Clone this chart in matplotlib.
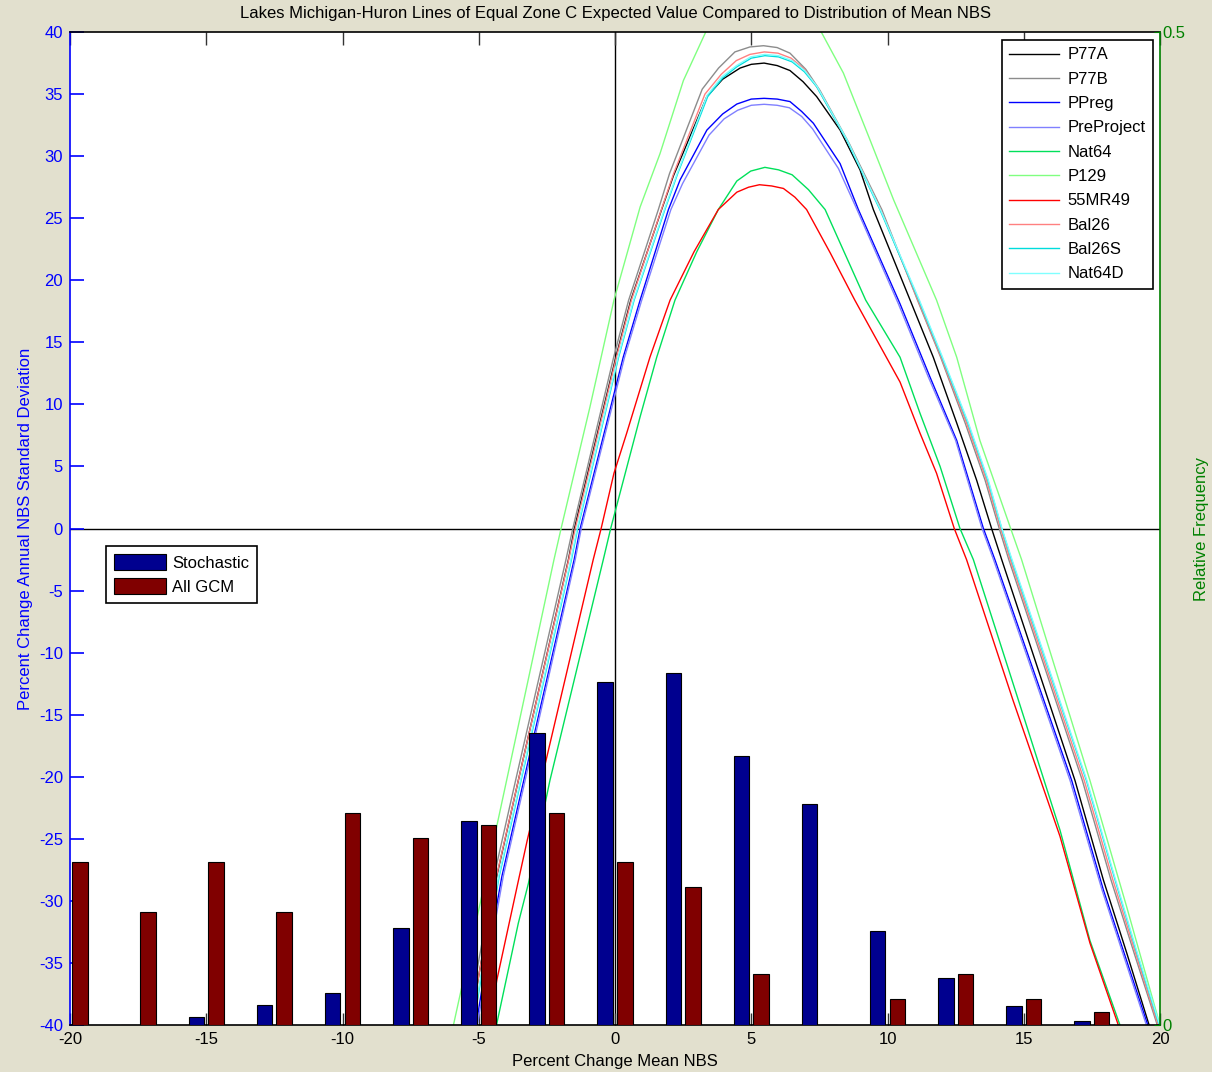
#!/usr/bin/env python3
"""Zone C expected value contours over the mean NBS distribution."""

import matplotlib

matplotlib.use("Agg")
import matplotlib.pyplot as plt
import numpy as np

plt.rcParams["font.family"] = ["Liberation Sans", "DejaVu Sans"]
plt.rcParams["axes.unicode_minus"] = False

TITLE = ("Lakes Michigan-Huron Lines of Equal Zone C Expected Value "
         "Compared to Distribution of Mean NBS")

# Histogram of percent change in mean NBS (relative frequency)
bin_centers = [-20, -17.5, -15, -12.5, -10, -7.5, -5, -2.5, 0, 2.5, 5, 7.5,
               10, 12.5, 15, 17.5, 20]
stochastic_freq = [0.0, 0.0, 0.004, 0.0102, 0.016, 0.0488, 0.1029, 0.147,
                   0.1727, 0.1772, 0.1354, 0.1113, 0.0473, 0.0238, 0.0096,
                   0.0022, 0.0]
gcm_freq = [0.082, 0.057, 0.082, 0.057, 0.1067, 0.094, 0.1009, 0.1067, 0.082,
            0.0695, 0.0258, 0.0, 0.0133, 0.0257, 0.0133, 0.0067, 0.0]

# Equal expected value lines: (percent change mean, percent change std dev)
p77a = [(-5.3, -40), (-5.0, -36), (-4.34, -28), (-3.55, -20.3), (-1.71, -2.5),
        (-1.49, 0), (0.03, 13.8), (0.58, 18.4), (1.71, 25.7), (2.14, 28.4),
        (3.37, 34.8), (3.95, 36.2), (4.59, 37.1), (5.0, 37.4), (5.47, 37.5),
        (5.95, 37.3), (6.42, 36.9), (6.9, 36.0), (7.4, 34.8), (8.26, 32.1),
        (8.99, 28.9), (9.48, 25.7), (10.83, 18.4), (11.68, 13.8), (12.54, 8.5),
        (13.27, 3.9), (13.82, 0), (14.19, -2.5), (16.88, -20.3),
        (17.92, -28.3), (18.78, -34.2), (19.6, -40)]
p77b = [(-5.4, -40), (-5.1, -36), (-4.44, -28), (-3.65, -20.3), (-1.8, -2.5),
        (-1.55, 0), (-0.05, 13.8), (0.5, 18.4), (1.59, 25.7), (2.0, 28.6),
        (3.2, 35.4), (3.8, 37.1), (4.4, 38.4), (4.95, 38.8), (5.45, 38.9),
        (5.95, 38.75), (6.42, 38.3), (7.0, 37.0), (7.52, 35.3), (8.6, 31.0),
        (9.79, 25.7), (11.1, 18.4), (11.95, 13.8), (12.85, 8.5), (13.58, 3.9),
        (14.1, 0), (14.45, -2.5), (17.15, -20.3), (18.2, -28.3),
        (19.05, -34.2), (19.9, -40)]
ppreg = [(-5.1, -40), (-4.8, -36), (-4.15, -28), (-3.35, -20.3), (-1.5, -2.5),
         (-1.28, 0), (0.3, 13.8), (0.92, 18.4), (1.96, 25.7), (2.39, 28.1),
         (3.37, 32.1), (3.95, 33.4), (4.47, 34.2), (5.0, 34.6), (5.47, 34.66),
         (5.95, 34.6), (6.42, 34.4), (6.85, 33.6), (7.28, 32.65), (8.26, 29.4),
         (8.93, 25.7), (10.46, 18.1), (11.56, 12.2), (12.54, 7.1), (13.52, 0),
         (13.94, -2.5), (16.76, -20.3), (17.92, -29.1), (19.55, -40)]
preproject = [(-5.05, -40), (-4.75, -36), (-4.1, -28), (-3.3, -20.3),
              (-1.46, -2.5), (-1.24, 0), (0.35, 13.8), (0.98, 18.4),
              (2.05, 25.7), (2.48, 27.8), (3.45, 31.7), (4.0, 33.0),
              (4.5, 33.7), (5.0, 34.1), (5.47, 34.18), (5.95, 34.1),
              (6.4, 33.9), (6.85, 33.2), (7.25, 32.2), (8.2, 29.0),
              (8.88, 25.7), (10.4, 18.1), (11.5, 12.2), (12.5, 7.1),
              (13.47, 0), (13.89, -2.5), (16.7, -20.3), (17.87, -29.1),
              (19.5, -40)]
nat64 = [(-4.35, -40), (-3.55, -31.8), (-3.18, -28.6), (-2.39, -20.3),
         (-0.43, -2.5), (-0.16, 0), (0.92, 9.0), (1.53, 13.8), (2.2, 18.4),
         (3.0, 22.3), (3.79, 25.7), (4.47, 28.0), (4.98, 28.8), (5.5, 29.1),
         (6.0, 28.9), (6.5, 28.5), (7.1, 27.3), (7.71, 25.7), (9.2, 18.4),
         (10.46, 13.8), (11.19, 9.3), (11.93, 5.0), (12.66, 0), (13.15, -2.5),
         (14.8, -13.8), (16.33, -24.3), (17.43, -33.2), (18.53, -40)]
p129 = [(-5.93, -40), (-4.95, -30.2), (-3.98, -20.3), (-2.24, -2.5),
        (-1.98, 0), (-0.92, 9.8), (-0.04, 18.4), (0.92, 25.9), (1.65, 30.2),
        (2.51, 36.1), (3.37, 40.2), (4.4, 42.5), (5.45, 43.2), (6.5, 42.5),
        (7.52, 40.2), (8.38, 36.7), (9.36, 31.3), (10.22, 26.5), (11.8, 18.4),
        (12.54, 13.8), (13.39, 7.1), (14.52, 0), (14.92, -2.5), (17.43, -20.3),
        (18.78, -30.5), (20.0, -40)]
mr49 = [(-4.6, -40), (-4.34, -36.4), (-3.55, -28.4), (-3.22, -25.1),
        (-0.8, -2.5), (-0.51, 0), (-0.04, 4.45), (0.43, 7.7), (1.28, 13.8),
        (2.02, 18.4), (2.9, 22.3), (3.79, 25.7), (4.47, 27.1), (4.9, 27.5),
        (5.3, 27.7), (5.75, 27.6), (6.18, 27.4), (6.6, 26.7), (7.03, 25.7),
        (7.9, 22.2), (8.8, 18.4), (10.46, 11.8), (11.19, 7.7), (11.8, 4.45),
        (12.45, 0), (12.9, -2.5), (14.6, -13.8), (16.33, -24.8),
        (17.43, -33.4), (18.47, -40)]
bal26 = [(-5.3, -40), (-5.0, -36), (-4.35, -28), (-3.55, -20.3), (-1.7, -2.5),
         (-1.46, 0), (0.05, 13.8), (0.6, 18.4), (1.7, 25.7), (2.15, 28.6),
         (3.3, 35.0), (3.9, 36.6), (4.45, 37.7), (4.95, 38.2), (5.48, 38.4),
         (5.98, 38.3), (6.46, 37.9), (6.95, 37.0), (7.46, 35.4), (8.55, 31.1),
         (9.75, 25.7), (11.12, 18.4), (11.97, 13.8), (12.9, 8.5),
         (13.63, 3.9), (14.15, 0), (14.5, -2.5), (17.22, -20.3),
         (18.27, -28.3), (19.1, -34.2), (19.93, -40)]
bal26s = [(-5.2, -40), (-4.9, -36), (-4.25, -28), (-3.45, -20.3), (-1.6, -2.5),
          (-1.37, 0), (0.13, 13.8), (0.7, 18.4), (1.83, 25.7), (2.3, 28.6),
          (3.4, 34.8), (3.95, 36.3), (4.47, 37.2), (5.0, 37.9), (5.5, 38.1),
          (6.0, 38.0), (6.5, 37.6), (6.95, 36.8), (7.4, 35.6), (8.5, 31.3),
          (9.72, 25.7), (11.15, 18.4), (12.0, 13.8), (12.95, 8.5),
          (13.68, 3.9), (14.19, 0), (14.55, -2.5), (17.3, -20.3),
          (18.35, -28.3), (19.15, -34.2), (19.97, -40)]
nat64d = [(-5.22, -40), (-4.92, -36), (-4.27, -28), (-3.47, -20.3),
          (-1.62, -2.5), (-1.39, 0), (0.11, 13.8), (0.68, 18.4), (1.81, 25.7),
          (2.28, 28.6), (3.38, 34.9), (3.92, 36.4), (4.46, 37.3), (4.98, 38.0),
          (5.5, 38.2), (6.0, 38.1), (6.5, 37.7), (6.96, 36.9), (7.42, 35.6),
          (8.52, 31.3), (9.74, 25.7), (11.17, 18.4), (12.02, 13.8),
          (12.97, 8.5), (13.7, 3.9), (14.2, 0), (14.57, -2.5), (17.32, -20.3),
          (18.37, -28.3), (19.17, -34.2), (19.99, -40)]

curves = [
    ("P77A", p77a, "#000000"),
    ("P77B", p77b, "#8c8c8c"),
    ("PPreg", ppreg, "#0000ff"),
    ("PreProject", preproject, "#8080ff"),
    ("Nat64", nat64, "#00e05a"),
    ("P129", p129, "#80ff80"),
    ("55MR49", mr49, "#ff0000"),
    ("Bal26", bal26, "#ff8080"),
    ("Bal26S", bal26s, "#00dcdc"),
    ("Nat64D", nat64d, "#80ffff"),
]

BG = "#e2e0ce"
LEFT_BLUE = "#0000ff"
RIGHT_GREEN = "#008000"
FS = 12


def main() -> None:
    fig = plt.figure(figsize=(12.12, 10.72), dpi=100, facecolor=BG)
    ax = fig.add_axes([0.0578, 0.0438, 0.8993, 0.9263])
    ax.set_facecolor("white")

    for label, pts, color in curves:
        xs = [p[0] for p in pts]
        ys = [p[1] for p in pts]
        ax.plot(xs, ys, color=color, lw=1.0, label=label)

    ax.axhline(0, color="black", lw=1.0, zorder=1)
    ax.axvline(0, color="black", lw=1.0, zorder=1)

    ax.set_xlim(-20, 20)
    ax.set_ylim(-40, 40)
    ax.set_xticks(np.arange(-20, 21, 5))
    ax.set_yticks(np.arange(-40, 41, 5))
    ax.tick_params(axis="x", direction="in", length=9, width=1, color="#333333",
                   top=True, labelsize=FS, pad=5, labelcolor="black")
    ax.tick_params(axis="y", direction="in", length=10, width=1.2,
                   colors=LEFT_BLUE, right=True, labelsize=FS, pad=5)
    ax.spines["left"].set_color(LEFT_BLUE)
    ax.spines["left"].set_linewidth(1.2)
    for side in ("top", "bottom"):
        ax.spines[side].set_color("black")
        ax.spines[side].set_linewidth(1.2)
    ax.spines["right"].set_visible(False)

    ax.set_xlabel("Percent Change Mean NBS", fontsize=FS, labelpad=5)
    ax.set_ylabel("Percent Change Annual NBS Standard Deviation",
                  fontsize=FS, color=LEFT_BLUE, labelpad=4.5)
    ax.set_title(TITLE, fontsize=FS, pad=10)

    leg = ax.legend(loc="upper right", bbox_to_anchor=(0.9936, 0.992),
                    borderaxespad=0, fontsize=FS, handlelength=3.0,
                    handletextpad=0.5, labelspacing=0.56, fancybox=False,
                    framealpha=1, edgecolor="black", borderpad=0.45)
    leg.get_frame().set_linewidth(1.2)

    # relative frequency histogram on a twin axis
    ax2 = ax.twinx()
    centers = np.array(bin_centers)
    ax2.bar(centers - 0.36, stochastic_freq, width=0.57, color="#00008f",
            edgecolor="black", lw=0.8, label="Stochastic")
    ax2.bar(centers + 0.36, gcm_freq, width=0.57, color="#800000",
            edgecolor="black", lw=0.8, label="All GCM")
    ax2.set_ylim(0, 0.5)
    ax2.set_xlim(-20, 20)
    ax2.set_yticks([0, 0.5])
    ax2.set_yticklabels(["0", "0.5"])
    ax2.tick_params(axis="y", direction="in", length=4, colors=RIGHT_GREEN,
                    labelsize=FS, pad=2)
    ax2.spines["right"].set_color(RIGHT_GREEN)
    ax2.spines["right"].set_linewidth(1.2)
    ax2.spines["left"].set_visible(False)
    ax2.spines["top"].set_visible(False)
    ax2.spines["bottom"].set_visible(False)
    ax2.set_ylabel("Relative Frequency", fontsize=FS, color=RIGHT_GREEN,
                   labelpad=6)

    leg2 = ax2.legend(loc="upper left", bbox_to_anchor=(0.033, 0.4824),
                      borderaxespad=0, fontsize=FS, handlelength=3.1,
                      handleheight=1.1, handletextpad=0.35, labelspacing=0.42,
                      fancybox=False, framealpha=1, edgecolor="black",
                      borderpad=0.5)
    leg2.get_frame().set_linewidth(1.2)

    fig.savefig("out.png", dpi=100, facecolor=BG)
    plt.close(fig)


if __name__ == "__main__":
    main()
